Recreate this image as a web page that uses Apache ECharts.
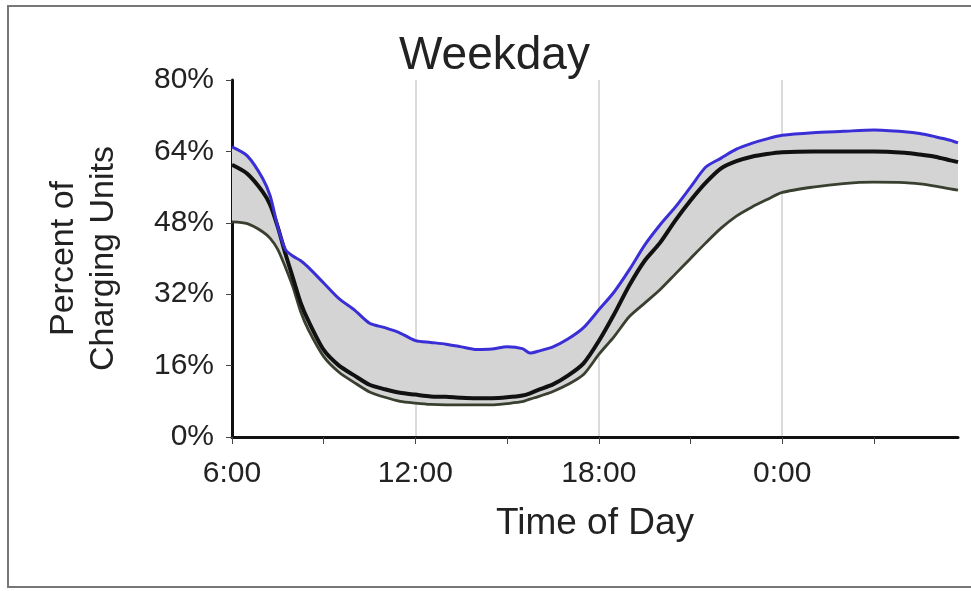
<!DOCTYPE html>
<html>
<head>
<meta charset="utf-8">
<script src="https://cdn.jsdelivr.net/npm/echarts@6/dist/echarts.min.js"></script>
<style>
  html, body { margin: 0; padding: 0; background: #fff; }
  #char { width: 971px; height: 591px; }
</style>
</head>
<body>
<div id="char"></div>
<script>
// hours after midnight, 6:00 .. 5:45 next morning
var hours = [6, 6.5, 7, 7.25, 7.5, 7.75, 8, 8.25, 8.5, 9, 9.5, 10, 10.5, 11, 11.5, 12,
    12.5, 13, 13.5, 14, 14.5, 15, 15.5, 15.75, 16, 16.5, 17, 17.5, 18, 18.5, 19, 19.5,
    20, 20.5, 21, 21.5, 22, 22.5, 23, 23.5, 24, 25, 26, 27, 28, 28.5, 29, 29.5, 29.75];

// blue line (upper)
var upperVals = [65, 63, 58, 54, 47, 42, 40.5, 39.5, 38, 34.5, 31, 28.5, 25.5, 24.5, 23.3, 21.6,
    21.2, 20.8, 20.2, 19.6, 19.7, 20.2, 19.8, 18.8, 19.2, 20.2, 22, 24.5, 28.5, 32.5, 37.5, 43,
    47.5, 51.5, 56, 60.5, 62.5, 64.5, 65.8, 66.8, 67.6, 68.2, 68.5, 68.8, 68.4, 68, 67.3, 66.5, 65.9];

// black line (middle)
var meanVals = [61, 59, 55, 52, 47, 41, 35.5, 30, 26, 19.5, 16, 13.8, 11.7, 10.7, 9.9, 9.5,
    9.1, 9, 8.8, 8.7, 8.7, 8.9, 9.3, 9.8, 10.5, 11.8, 13.8, 16.5, 21.5, 27.5, 34, 39.5,
    43.5, 48.5, 53, 57, 60.2, 61.8, 62.8, 63.4, 63.8, 64, 64, 64, 63.7, 63.3, 62.8, 62, 61.6];

// olive line (lower)
var lowerVals = [48.2, 47.8, 46, 44.5, 42, 38, 33.5, 28, 24, 18, 14.5, 12.2, 10.1, 8.9, 8, 7.6,
    7.3, 7.2, 7.2, 7.2, 7.2, 7.5, 7.9, 8.5, 9, 10.2, 11.8, 14, 18.5, 22.5, 27, 30,
    33, 36.5, 40, 43.5, 46.8, 49.5, 51.5, 53.2, 54.8, 56, 56.8, 57.1, 57, 56.7, 56.2, 55.6, 55.3];

var yTicks = [0, 16, 32, 48, 64, 80];
var xTickHours = [6, 9, 12, 15, 18, 21, 24, 27];
var xLabelHours = [6, 12, 18, 24];

function pairs(vals) {
    var out = [];
    for (var i = 0; i < hours.length; i++) {
        out.push([hours[i], vals[i]]);
    }
    return out;
}

var myChart = echarts.init(document.getElementById('char'));
var font = 'Liberation Sans, Arial, sans-serif';
var sm = 0.25;

// gray band between lower and blue line, one polygon
function renderBand(params, api) {
    if (params.dataIndex !== 0) return;
    var pts = [];
    for (var i = 0; i < hours.length; i++) {
        pts.push(api.coord([hours[i], upperVals[i]]));
    }
    for (var j = hours.length - 1; j >= 0; j--) {
        pts.push(api.coord([hours[j], lowerVals[j]]));
    }
    return {
        type: 'polygon',
        shape: { points: pts },
        style: { fill: '#d4d4d4', stroke: 'none' },
        silent: true
    };
}

var option = {
    animation: false,
    title: {
        text: 'Weekday',
        left: 394,
        top: 28,
        textStyle: { fontFamily: font, fontSize: 46, fontWeight: 'normal', color: '#222' }
    },
    graphic: [{
        type: 'rect',
        shape: { x: 8, y: 6, width: 1000, height: 581 },
        style: { fill: 'none', stroke: '#777', lineWidth: 2 },
        silent: true
    }],
    grid: { left: 232, right: 13, top: 80, bottom: 154 },
    xAxis: [{
        type: 'value',
        min: 6,
        max: 29.75,
        interval: 3,
        name: 'Time of Day',
        nameLocation: 'middle',
        nameGap: 68,
        nameTextStyle: { fontFamily: font, fontSize: 37, color: '#222' },
        axisLine: { lineStyle: { color: '#111', width: 3 } },
        axisTick: { length: 7, customValues: xTickHours, lineStyle: { color: '#444', width: 1 } },
        axisLabel: {
            margin: 22,
            fontFamily: font,
            fontSize: 30,
            color: '#222',
            customValues: xLabelHours,
            formatter: function (v) {
                if ((v - 6) % 6 !== 0) return '';
                return (v % 24) + ':00';
            }
        },
        splitLine: { show: false }
    }, {
        // vertical grid lines every 6 hours
        type: 'value',
        gridIndex: 0,
        min: 6,
        max: 29.75,
        interval: 6,
        position: 'bottom',
        axisLine: { show: false },
        axisTick: { show: false },
        axisLabel: { show: false },
        splitLine: { show: true, showMinLine: false, showMaxLine: false, lineStyle: { color: '#cfcfcf', width: 1.5 } }
    }],
    yAxis: {
        type: 'value',
        min: yTicks[0],
        max: yTicks[yTicks.length - 1],
        interval: 16,
        name: 'Percent of\nCharging Units',
        nameLocation: 'middle',
        nameGap: 108,
        nameTextStyle: { fontFamily: font, fontSize: 34, color: '#222', lineHeight: 40 },
        axisLine: { show: true, lineStyle: { color: '#111', width: 3 } },
        axisTick: { show: true, length: 6, lineStyle: { color: '#444', width: 1 } },
        axisLabel: { margin: 18, fontFamily: font, fontSize: 30, color: '#222', formatter: '{value}%' },
        splitLine: { show: false }
    },
    series: [
        {
            name: 'band',
            type: 'custom',
            renderItem: renderBand,
            data: [[hours[0], lowerVals[0]]],
            silent: true,
            z: 1
        },
        {
            name: 'lower',
            type: 'line',
            data: pairs(lowerVals),
            symbol: 'none',
            smooth: sm,
            lineStyle: { color: '#394030', width: 2.8 },
            z: 3
        },
        {
            name: 'mean',
            type: 'line',
            data: pairs(meanVals),
            symbol: 'none',
            smooth: sm,
            lineStyle: { color: '#111', width: 4 },
            z: 4
        },
        {
            name: 'upper',
            type: 'line',
            data: pairs(upperVals),
            symbol: 'none',
            smooth: sm,
            lineStyle: { color: '#3a2fd6', width: 3 },
            z: 5
        }
    ]
};
myChart.setOption(option);
</script>
</body>
</html>
